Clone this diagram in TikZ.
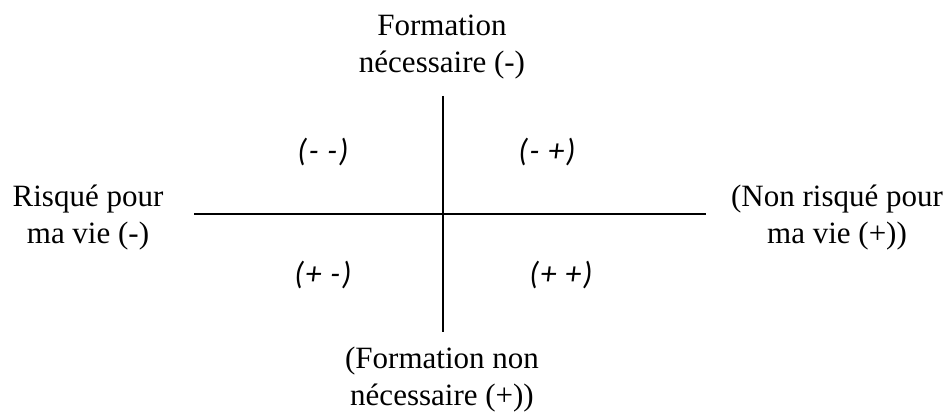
\documentclass[tikz,border=0pt]{standalone}
\usepackage{fontspec}
\setmainfont{Liberation Serif}
\newfontfamily\quadfont[LetterSpace=5]{Carlito}
\begin{document}
\begin{tikzpicture}[x=1pt,y=1pt,
  lab/.style={font=\fontsize{31}{37}\selectfont, align=center, inner sep=0pt},
  quad/.style={font=\quadfont\itshape\fontsize{32}{36}\selectfont, inner sep=0pt},
  axis/.style={line width=2pt}]
\useasboundingbox (0,0) rectangle (949,417);
\coordinate (vt) at (442.5,321);
\coordinate (vb) at (442.5,85);
\coordinate (hl) at (194,203);
\coordinate (hr) at (706,203);
\draw[axis] (vt) -- (vb);
\draw[axis] (hl) -- (hr);
\node[lab] (top) at (442,370) {Formation\\nécessaire (-)};
\node[lab] (bot) at (442,37) {(Formation non\\nécessaire (+))};
\node[lab] (left) at (88,199) {Risqué pour\\ma vie (-)};
\node[lab] (right) at (837,199) {(Non risqué pour\\ma vie (+))};
\node[quad] (q1) at (323,265) {(- -)};
\node[quad] (q2) at (547,265) {(- +)};
\node[quad] (q3) at (323,142) {(+ -)};
\node[quad] (q4) at (561,142) {(+ +)};
\end{tikzpicture}
\end{document}
